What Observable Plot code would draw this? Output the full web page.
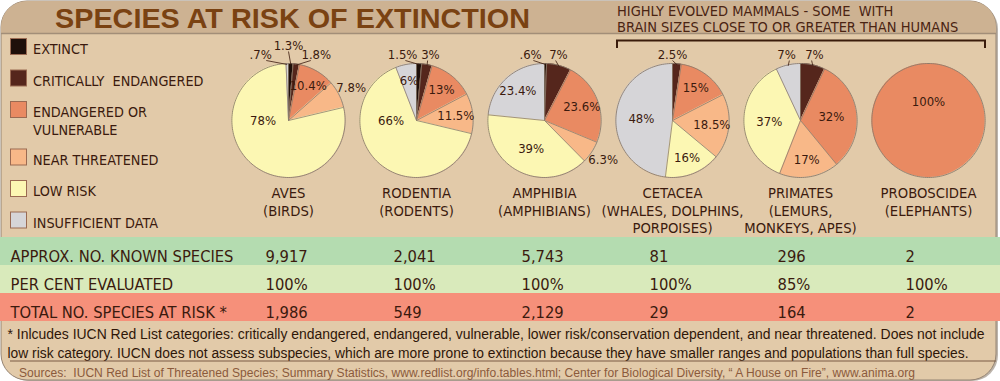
<!DOCTYPE html>
<html><head><meta charset="utf-8">
<script src="https://cdn.jsdelivr.net/npm/d3@7"></script>
<script src="https://cdn.jsdelivr.net/npm/@observablehq/plot@0.6"></script>
<style>
body{margin:0;background:#fff;}
#wrap{position:relative;width:1000px;height:381px;overflow:hidden;}
.layer{position:absolute;left:0;}
</style></head><body><div id="wrap"></div>
<script>
// ---------- data ----------
const categories = ["EXTINCT", "CRITICALLY ENDANGERED", "ENDANGERED OR VULNERABLE", "NEAR THREATENED", "LOW RISK", "INSUFFICIENT DATA"];
const legendLabels = ["EXTINCT", "CRITICALLY  ENDANGERED", "ENDANGERED OR\nVULNERABLE", "NEAR THREATENED", "LOW RISK", "INSUFFICIENT DATA"];
const colors = ["#1e0f0a", "#55261c", "#e98a62", "#f8b888", "#fcf7b3", "#d6d5d8"];
const groups = ["AVES\n(BIRDS)", "RODENTIA\n(RODENTS)", "AMPHIBIA\n(AMPHIBIANS)", "CETACEA\n(WHALES, DOLPHINS,\nPORPOISES)", "PRIMATES\n(LEMURS,\nMONKEYS, APES)", "PROBOSCIDEA\n(ELEPHANTS)"];
// percentages per group, clockwise from 12 o'clock in category order
const extinct        = [1.3, 1.5, 0.6, 0, 0, 0];
const critical       = [1.8, 3, 7, 2.5, 7, 0];
const endangered     = [10.4, 13, 23.6, 15, 32, 100];
const nearThreatened = [7.8, 11.5, 6.3, 18.5, 17, 0];
const lowRisk        = [78, 66, 39, 16, 37, 0];
const insufficient   = [0.7, 6, 23.4, 48, 7, 0];
const series = [extinct, critical, endangered, nearThreatened, lowRisk, insufficient];

const rowNames = ["APPROX. NO. KNOWN SPECIES", "PER CENT EVALUATED", "TOTAL NO. SPECIES AT RISK *"];
const knownSpecies     = ["9,917", "2,041", "5,743", "81", "296", "2"];
const perCentEvaluated = ["100%", "100%", "100%", "100%", "85%", "100%"];
const totalAtRisk      = ["1,986", "549", "2,129", "29", "164", "2"];
const rowValues = [knownSpecies, perCentEvaluated, totalAtRisk];
const rowColors = ["#b4dcb0", "#d9eabb", "#f6907a"];

const titleText = "SPECIES AT RISK OF EXTINCTION";
const subtitleLines = ["HIGHLY EVOLVED MAMMALS - SOME  WITH", "BRAIN SIZES CLOSE TO OR GREATER THAN HUMANS"];
const footLines = [
  "* Inlcudes IUCN Red List categories: critically endangered, endangered, vulnerable, lower risk/conservation dependent, and near threatened. Does not include",
  "low risk category. IUCN does not assess subspecies, which are more prone to extinction because they have smaller ranges and populations than full species."
];
const sourceText = "Sources:  IUCN Red List of Threatened Species; Summary Statistics, www.redlist.org/info.tables.html; Center for Biological Diversity, \u201c A House on Fire\u201d, www.anima.org";

// ---------- styling ----------
const FONT_N = "'DejaVu Sans Condensed','Liberation Sans Narrow','Liberation Sans',sans-serif";
const FONT = "'Liberation Sans','DejaVu Sans',sans-serif";
const INK = "#3b1a0e";
const EDGE = "#8c7c6c";
const R = 57;

const wrap = d3.select("#wrap");

// ---------- background & static texts ----------
const bg = wrap.append("svg").attr("class", "layer").style("top", "0px")
  .attr("width", 1000).attr("height", 381);
bg.append("defs").append("clipPath").attr("id", "box")
  .append("rect").attr("x", 1).attr("y", 1).attr("width", 995).attr("height", 379).attr("rx", 26);
bg.append("rect").attr("x", 3).attr("y", 3).attr("width", 995).attr("height", 378).attr("rx", 26).attr("fill", "#bcb4ab");
bg.append("rect").attr("x", 1).attr("y", 1).attr("width", 995).attr("height", 379).attr("rx", 26)
  .attr("fill", "#e2caa9").attr("stroke", "#958473").attr("stroke-width", 1);
bg.append("rect").attr("x", 0).attr("y", 0).attr("width", 1000).attr("height", 33)
  .attr("fill", "#cdb292").attr("clip-path", "url(#box)");
bg.append("line").attr("x1", 1).attr("x2", 996).attr("y1", 33.5).attr("y2", 33.5)
  .attr("stroke", "#a28e78").attr("stroke-width", 1.5);

bg.append("text").attr("x", 55).attr("y", 27.5).attr("textLength", 475).attr("lengthAdjust", "spacingAndGlyphs")
  .attr("font-family", FONT).attr("font-weight", "bold").attr("font-size", 28).attr("fill", "#7a4212").text(titleText);
bg.selectAll("text.sub").data(subtitleLines).join("text").attr("class", "sub")
  .attr("x", 617).attr("y", (d, i) => 16 + i * 16)
  .attr("font-family", FONT_N).attr("font-size", 14.5).attr("fill", "#4a2412").style("white-space", "pre").text(d => d);
bg.append("path").attr("d", "M617,48V40.5H985V48").attr("fill", "none").attr("stroke", "#3a1c0c").attr("stroke-width", 2);

// legend
let extra = 0;
legendLabels.forEach((lab, i) => {
  const top = 38 + 31.5 * i + extra;
  bg.append("rect").attr("x", 10.5).attr("y", top + 0.5).attr("width", 16).attr("height", 16)
    .attr("fill", colors[i]).attr("stroke", "#9a6a52").attr("stroke-width", 1);
  lab.split("\n").forEach((line, j) => {
    bg.append("text").attr("x", 33).attr("y", top + 16 + j * 18)
      .attr("font-family", FONT_N).attr("font-size", 14.3).attr("fill", INK)
      .style("white-space", "pre").text(line);
  });
  extra += 16 * (lab.split("\n").length - 1);
});

// footnote
const footW = [977, 961];
footLines.forEach((t, i) => {
  bg.append("text").attr("x", 7.5).attr("y", 339 + i * 18.5).attr("textLength", footW[i]).attr("lengthAdjust", "spacingAndGlyphs")
    .attr("font-family", FONT).attr("font-size", 14).attr("fill", "#2e1608").text(t);
});
bg.append("line").attr("x1", 10).attr("x2", 996).attr("y1", 361).attr("y2", 361).attr("stroke", "#7a5a44").attr("stroke-width", 1);
bg.append("text").attr("x", 19).attr("y", 376.5).attr("textLength", 896).attr("lengthAdjust", "spacingAndGlyphs")
  .attr("font-family", FONT).attr("font-size", 12).attr("fill", "#8b5a3c").style("white-space", "pre").text(sourceText);

// ---------- pie geometry from data ----------
const fmt = v => (v < 1 ? String(v).replace(/^0/, "") : String(v)) + "%";
const slicePts = [], pctLabels = [], leaders = [], separators = [];
groups.forEach((g, gi) => {
  const vals = series.map(s => s[gi]);
  const total = d3.sum(vals);
  const nSlices = vals.filter(v => v > 0).length;
  let cum = 0;
  const topCand = [];
  vals.forEach((v, ci) => {
    if (!v) return;
    const a0 = cum / total * 2 * Math.PI, a1 = (cum + v) / total * 2 * Math.PI;
    cum += v;
    if (nSlices > 1) separators.push({group: g, x: R * Math.sin(a0), y: R * Math.cos(a0)});
    const n = Math.max(2, Math.ceil((a1 - a0) / (Math.PI / 90)));
    for (let k = 0; k <= n; k++) {
      const a = a0 + (a1 - a0) * k / n;
      slicePts.push({group: g, id: gi + "-" + ci, cat: categories[ci], x: R * Math.sin(a), y: R * Math.cos(a)});
    }
    const mid = (a0 + a1) / 2;
    const text = fmt(v);
    const inside = d => pctLabels.push({group: g, text, x: d * Math.sin(mid), y: d * Math.cos(mid)});
    if (v >= total) {
      pctLabels.push({group: g, text, x: 0, y: 0.33 * R});
    } else if (v >= 50) {
      pctLabels.push({group: g, text, x: Math.sign(Math.sin(mid)) * 0.45 * R, y: 0});
    } else if (v >= 8) {
      inside(v >= 30 ? 0.55 * R : 0.7 * R);
    } else {
      const signed = mid > Math.PI ? mid - 2 * Math.PI : mid;
      if (Math.abs(signed) < 35 * Math.PI / 180) topCand.push({v, text, signed, mid, inside});
      else pctLabels.push({group: g, text, x: (R + 14) * Math.sin(mid), y: (R + 14) * Math.cos(mid)});
    }
  });
  // when three small slices crowd the top, a slice wide enough for its label keeps it inside
  const topLabels = topCand.filter(t => !(topCand.length >= 3 && t.v >= 5 && (t.inside(0.7 * R), true)));
  topLabels.sort((a, b) => a.signed - b.signed);
  const nT = topLabels.length;
  topLabels.forEach((t, k) => {
    const lx = (k - (nT - 1) / 2) * 28;
    const raise = (nT % 2 === 1 && nT > 1 && k === (nT - 1) / 2) ? 9 : 0;
    pctLabels.push({group: g, text: t.text, x: lx, y: R + 9 + raise});
    leaders.push({group: g, x1: lx * 0.8, y1: R + 3 + raise, x2: R * Math.sin(t.mid), y2: R * Math.cos(t.mid) - 1});
  });
});

// ---------- pies ----------
const pies = Plot.plot({
  width: 1000, height: 196,
  marginLeft: 221.6, marginRight: 5.6, marginTop: 0, marginBottom: 0,
  fx: {domain: groups, padding: 0, axis: null},
  x: {domain: [-64.4, 64.4], axis: null},
  y: {domain: [-116, 80], axis: null},
  color: {domain: categories, range: colors},
  style: {background: "none", overflow: "visible", fontFamily: FONT_N},
  marks: [
    Plot.area(slicePts, {fx: "group", x1: "x", y1: "y", x2: 0, y2: 0, z: "id", fill: "cat", curve: "linear"}),
    Plot.link(separators, {fx: "group", x1: 0, y1: 0, x2: "x", y2: "y", stroke: EDGE, strokeWidth: 0.8}),
    Plot.line(slicePts, {fx: "group", x: "x", y: "y", z: "group", stroke: EDGE, strokeWidth: 0.9, curve: "linear"}),
    Plot.link(leaders, {fx: "group", x1: "x1", y1: "y1", x2: "x2", y2: "y2", stroke: INK, strokeWidth: 0.8}),
    Plot.text(pctLabels, {fx: "group", x: "x", y: "y", text: "text", fontSize: 13, fill: INK, fontFamily: FONT_N}),
    Plot.text(groups, {fx: d => d, x: 0, y: -(R + 8), text: d => d, lineAnchor: "top", lineHeight: 1.2,
      fontSize: 14.7, fill: INK, fontFamily: FONT_N})
  ]
});
wrap.append("div").attr("class", "layer").style("top", "40px").node().appendChild(pies);

// ---------- table ----------
const tableCells = [];
rowNames.forEach((row, ri) => groups.forEach((g, gi) => tableCells.push({row, group: g, value: rowValues[ri][gi]})));
const table = Plot.plot({
  width: 1000, height: 86,
  marginLeft: 0, marginRight: 0, marginTop: 0, marginBottom: 0,
  x: {type: "band", domain: groups, range: [221.6, 994.4], padding: 0, axis: null},
  y: {domain: rowNames, padding: 0, axis: null},
  color: {type: "identity"},
  style: {background: "none", overflow: "visible", fontFamily: FONT_N},
  marks: [
    Plot.cell(rowNames, {y: d => d, fill: (d, i) => rowColors[i]}),
    Plot.text(rowNames, {y: d => d, text: d => d, frameAnchor: "left", dx: 10, dy: 5, textAnchor: "start",
      fontSize: 16.4, fill: INK, fontFamily: FONT_N}),
    Plot.text(tableCells, {x: "group", y: "row", text: "value", dx: -23, dy: 5, textAnchor: "start",
      fontSize: 16.4, fill: INK, fontFamily: FONT_N})
  ]
});
wrap.append("div").attr("class", "layer").style("top", "236px").node().appendChild(table);
</script></body></html>
